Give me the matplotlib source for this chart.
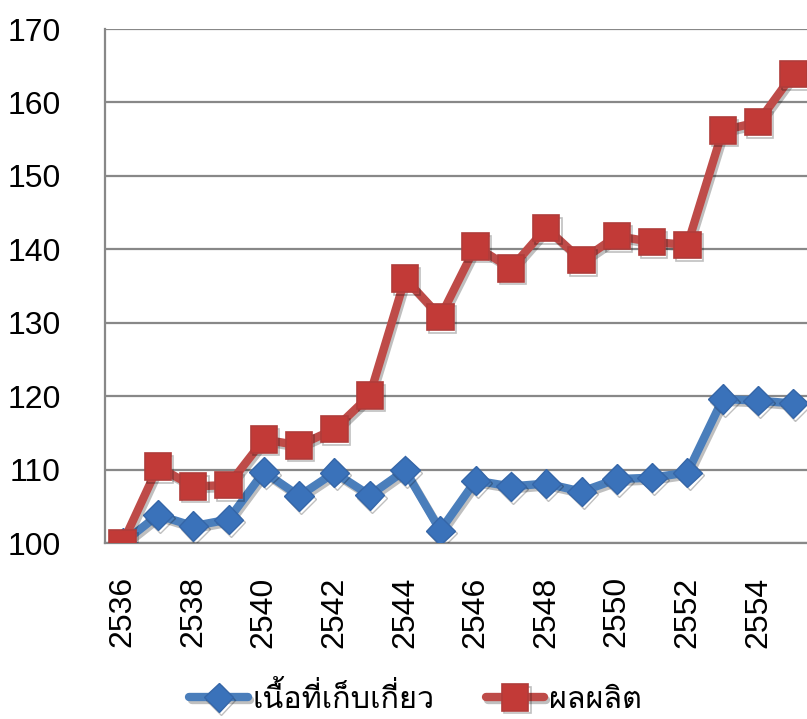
import matplotlib
matplotlib.use("Agg")
import matplotlib.pyplot as plt
import matplotlib.patheffects as pe

years = list(range(2536, 2556))
area = [100.0, 103.8, 102.3, 103.2, 109.7, 106.4, 109.6, 106.5, 109.9, 101.7,
        108.5, 107.7, 108.1, 107.0, 108.7, 108.9, 109.6, 119.6, 119.4, 119.0]
production = [100.0, 110.4, 107.7, 107.9, 114.1, 113.3, 115.5, 120.1, 136.0, 130.8,
              140.4, 137.4, 142.9, 138.5, 141.8, 141.0, 140.6, 156.2, 157.3, 163.9]
label_area = "เนื้อที่เก็บเกี่ยว"
label_prod = "ผลผลิต"
yticks = [100, 110, 120, 130, 140, 150, 160, 170]
xticks = list(range(2536, 2556, 2))

plt.rcParams['font.family'] = ['Liberation Sans', 'DejaVu Sans']

fig = plt.figure(figsize=(8.07, 7.19), dpi=100)
ax = fig.add_axes([105/807, (719-543)/719, (811-105)/807, (543-29)/719])

shadow = [pe.SimpleLineShadow(offset=(1.5, -2), alpha=0.25, shadow_color='black'), pe.Normal()]

ax.plot(years, area, color='#4A7EBB', lw=6, marker='D', markersize=15,
        markerfacecolor='#3A72BA', markeredgecolor='#3566A8', markeredgewidth=1,
        label=label_area, zorder=3, path_effects=shadow, solid_capstyle='round')
ax.plot(years, production, color='#BE4B48', lw=6, marker='s', markersize=19,
        markerfacecolor='#C23A37', markeredgecolor='#B03C3A', markeredgewidth=1.2,
        label=label_prod, zorder=4, path_effects=shadow, solid_capstyle='round')

ax.set_xlim(2535.5, 2555.5)
ax.set_ylim(100, 170)
ax.set_yticks(yticks)
ax.set_xticks(xticks)
ax.set_xticklabels([str(x) for x in xticks], rotation=90)
ax.tick_params(axis='both', length=0, labelsize=23)
ax.tick_params(axis='y', pad=32)
ax.tick_params(axis='x', pad=24)

ax.grid(axis='y', color='#888888', lw=1.6, zorder=0)
ax.set_axisbelow(True)
for s in ['top', 'right']:
    ax.spines[s].set_visible(False)
for s in ['left', 'bottom']:
    ax.spines[s].set_color('#888888')
    ax.spines[s].set_linewidth(1.6)

leg = fig.legend(loc='center', bbox_to_anchor=(0.515, (719-698)/719), ncol=2, frameon=False,
                 prop={'family': ['Loma', 'DejaVu Sans'], 'size': 22},
                 handlelength=1.9, handletextpad=0.15, columnspacing=1.7, borderaxespad=0,
                 borderpad=0)

fig.savefig("out.png", dpi=100)
